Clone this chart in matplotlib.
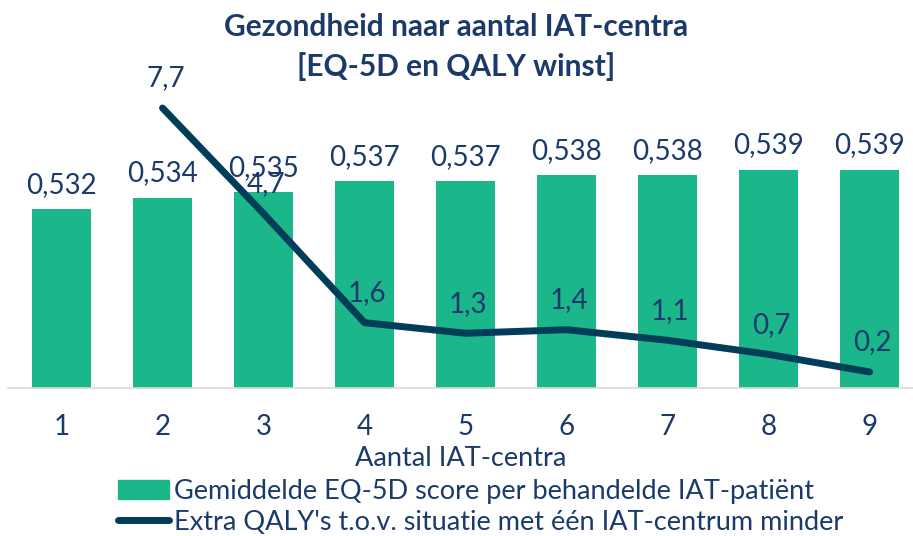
import matplotlib
matplotlib.use("Agg")
import matplotlib.pyplot as plt
from matplotlib.patches import Patch
from matplotlib.lines import Line2D

# data
centra = [1, 2, 3, 4, 5, 6, 7, 8, 9]
eq5d = [0.532, 0.534, 0.535, 0.537, 0.537, 0.538, 0.538, 0.539, 0.539]
qaly_x = [2, 3, 4, 5, 6, 7, 8, 9]
qaly = [7.7, 4.7, 1.6, 1.3, 1.4, 1.1, 0.7, 0.2]

GREEN = "#1BB68A"
LINE = "#003D58"
TEXT = "#1B3A6B"
FS = 20

plt.rcParams['font.family'] = ['Lato', 'DejaVu Sans']

fig = plt.figure(figsize=(9.13, 5.36), dpi=100)
ax = fig.add_axes([8 / 913, 1 - 388 / 536, 905 / 913, 293 / 536])

ax.bar(centra, eq5d, width=0.59, color=GREEN, zorder=2)
ax.set_ylim(0.5, 0.5523)
ax.set_xlim(0.47, 9.43)
for x, v in zip(centra, eq5d):
    ax.annotate(f"{v:.3f}".replace(".", ","), (x, v), xytext=(0, 8),
                textcoords="offset points", ha="center", va="bottom",
                fontsize=FS, color=TEXT)

ax2 = ax.twinx()
ax2.plot(qaly_x, qaly, color=LINE, lw=5, solid_capstyle="round", zorder=3)
ax2.set_ylim(-0.256, 8.07)
for x, v in zip(qaly_x, qaly):
    ax2.annotate(f"{v:.1f}".replace(".", ","), (x, v), xytext=(2, 12),
                 textcoords="offset points", ha="center", va="bottom",
                 fontsize=FS, color=TEXT)

for a in (ax, ax2):
    for s in a.spines.values():
        s.set_visible(False)
    a.set_yticks([])
ax.spines['bottom'].set_visible(True)
ax.spines['bottom'].set_color("#D9D9D9")
ax.spines['bottom'].set_linewidth(1.2)

ax.set_xticks(centra)
ax.tick_params(axis="x", length=0, pad=19, labelsize=FS, labelcolor=TEXT)
ax.set_xlabel("Aantal IAT-centra", fontsize=19.5, color=TEXT, labelpad=4)

fig.text(0.5, 1 - 27 / 536, "Gezondheid naar aantal IAT-centra", ha="center",
         va="center", fontsize=21.5, fontweight="bold", color=TEXT)
fig.text(0.5, 1 - 67 / 536, "[EQ-5D en QALY winst]", ha="center",
         va="center", fontsize=21.5, fontweight="bold", color=TEXT)

handles = [Patch(color=GREEN),
           Line2D([0], [0], color=LINE, lw=5, solid_capstyle="round")]
labels = ["Gemiddelde EQ-5D score per behandelde IAT-patiënt",
          "Extra QALY's t.o.v. situatie met één IAT-centrum minder"]
leg = fig.legend(handles, labels, loc="upper left",
                 bbox_to_anchor=(118 / 913, 1 - 479 / 536), frameon=False,
                 fontsize=19.5, handlelength=1.9, handletextpad=0.15,
                 labelspacing=0.22, borderpad=0, borderaxespad=0)
for t in leg.get_texts():
    t.set_color(TEXT)

fig.savefig("out.png", dpi=100)
